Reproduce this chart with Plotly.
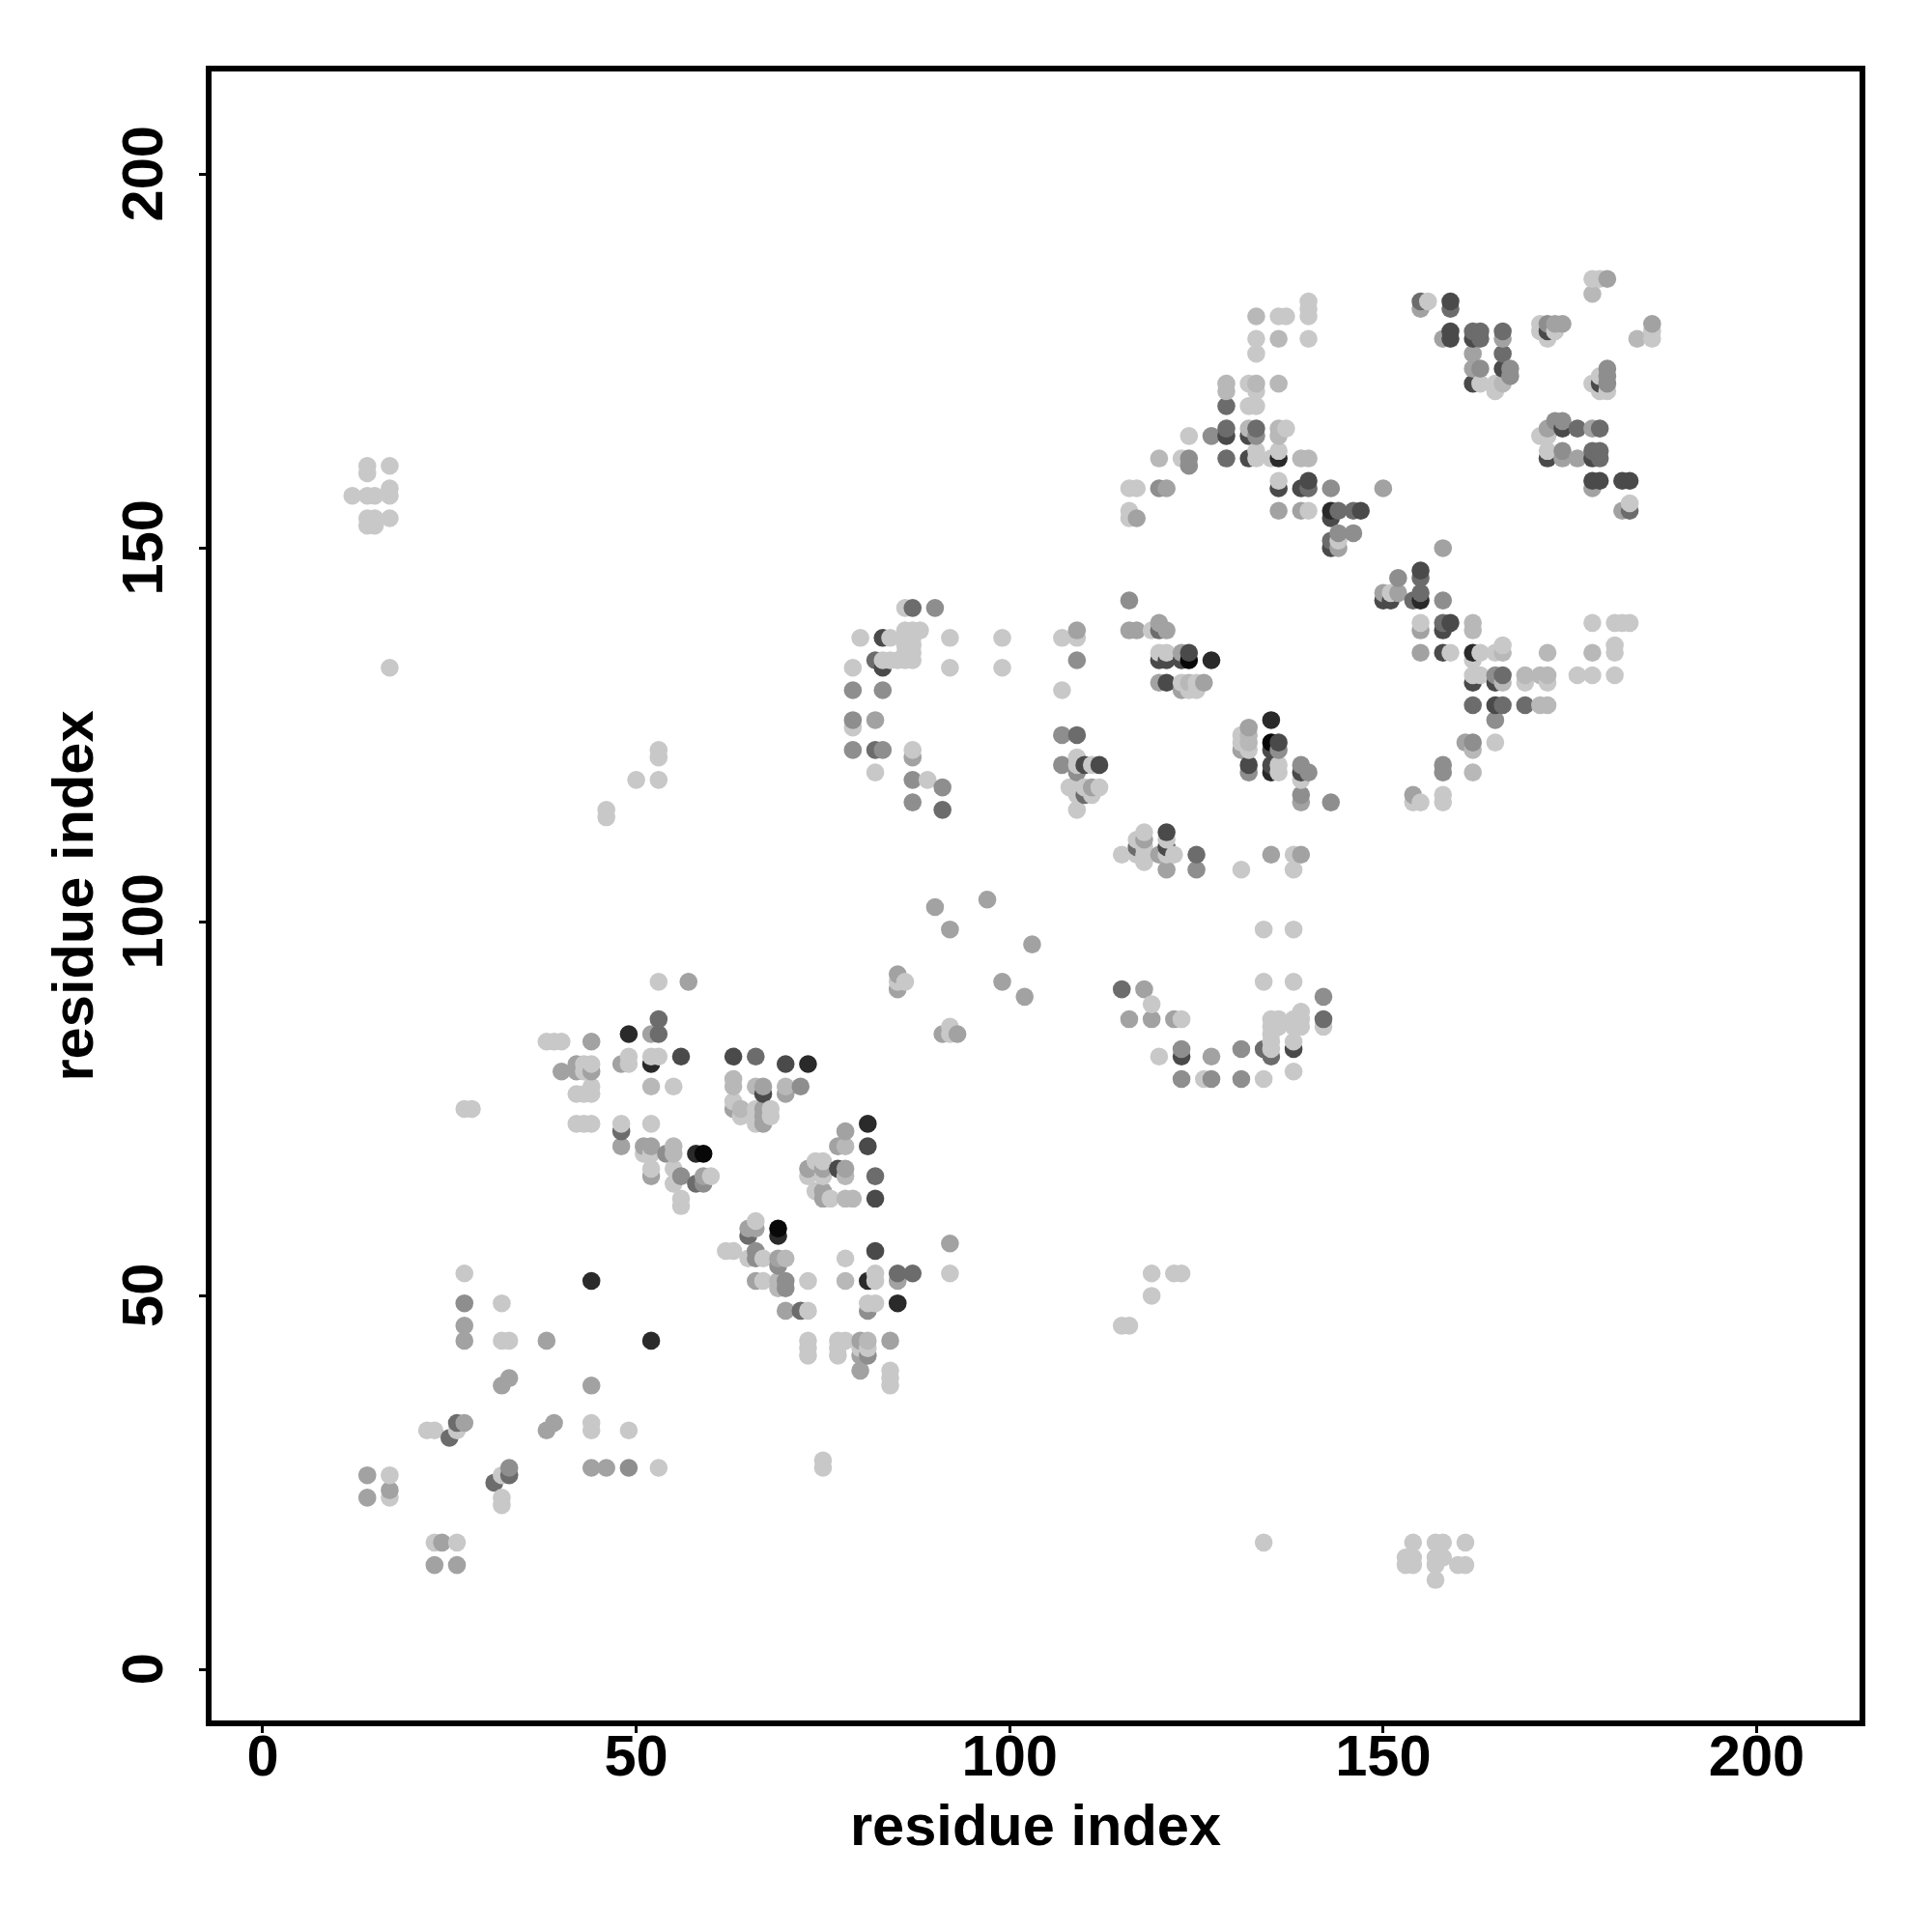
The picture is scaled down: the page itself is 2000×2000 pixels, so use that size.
import plotly.graph_objects as go

tick_values = [0, 50, 100, 150, 200]
axis_label = "residue index"

gray_c8 = [(17,26),(17,23),(23,17),(26,17),(22,32),(23,32),(26,32),(32,26),(32,23),(32,22),(44,33),(44,32),(49,32),(53,27),
 (27,53),(32,49),(32,44),(33,44),(27,75),(28,75),(38,84),(39,84),(40,84),(43,80),(43,81),(44,81),(42,77),(43,77),(44,77),(44,78),
 (42,73),(43,73),(44,73),(48,73),(52,73),(49,82),(49,81),(52,82),(53,82),(55,78),(51,69),(52,69),(52,67),(55,67),(55,65),(53,92),
 (75,28),(75,27),(134,17),(154,17),(157,17),(158,17),(161,17),(153,14),(154,14),(157,14),(160,14),(161,14),(153,15),(154,15),(157,15),(158,15),(157,12),
 (12,157),(14,157),(15,157),(17,158),(17,157),(17,154),(14,161),(14,160),(17,161),(14,154),(15,154),(14,153),(15,153),(17,134),
 (46,115),(46,114),(50,119),(53,119),(53,123),(53,122),(85,92),(86,92),(92,86),(92,85),(119,89),(120,82),
 (63,76),(64,74),(66,75),(66,73),(66,74),(68,75),(68,74),(74,68),(75,68),(73,66),(75,66),(74,64),(76,63),(60,66),(56,63),(56,62),
 (66,60),(62,56),(63,56),(65,55),(67,55),(67,52),(73,52),(82,53),(82,52),(92,53),(78,55),(73,48),(81,49),(82,49),
 (73,44),(77,44),(78,44),(73,43),(77,43),(80,43),(81,43),(73,42),(77,42),(84,40),(84,39),(84,38),(119,53),(122,53),(123,53),(119,50),(115,46),(116,46),
 (86,142),(80,138),(84,138),(86,139),(87,139),(88,139),(86,138),(87,138),(86,137),(87,137),(86,136),(87,136),(92,138),(99,138),(107,138),(109,138),
 (83,135),(84,135),(85,135),(86,135),(87,135),(79,134),(92,134),(99,134),(107,131),(79,126),(87,123),(82,120),(89,119),
 (109,122),(109,121),(111,121),(108,118),(109,118),(110,118),(112,118),(109,117),(111,117),(109,115),
 (119,139),(120,136),(121,136),(123,132),(125,132),(124,131),(125,131),(131,125),(131,124),(132,123),(136,121),(136,120),(139,119),
 (154,116),(155,116),(158,117),(158,116),(115,109),(117,111),(118,112),(118,110),(117,109),(118,109),(118,108),(121,109),(122,109),(121,111),
 (131,107),(134,99),(138,99),(138,109),(138,107),(123,87),(126,79),(134,79),(134,92),(138,92),(135,83),(135,84),(135,85),(135,86),(135,87),(136,87),(136,86),
 (138,87),(138,86),(139,86),(139,87),(139,88),(138,84),(138,80),(142,86),(151,144),(155,140),(159,136),(163,136),(162,135),(165,136),(166,137),
 (178,140),(181,140),(182,140),(183,140),(181,137),(181,136),(162,133),(163,133),(176,133),(178,133),(181,133),(169,132),(172,132),(165,124),
 (156,183),(163,172),(165,172),(165,171),(171,180),(171,179),(172,178),(173,179),(178,186),(179,186),(186,178),(186,179),(178,172),(179,173),(179,171),(180,171),
 (171,165),(172,165),(172,163),(183,156),(140,183),(140,182),(140,181),(136,181),(137,181),(133,178),(140,178),(133,176),(132,172),(133,171),
 (132,169),(133,169),(137,166),(124,165),(123,162),(133,163),(133,162),(135,162),(136,163),(116,158),(117,158),(136,159),(116,155),(116,154),(140,155),(144,151)]

gray_b8 = [(63,79),(63,78),(66,78),(70,78),(64,75),(78,70),(78,66),(78,63),(79,63),(55,70),(69,52),(69,51),(70,55),(78,52),(81,44),(52,78),
 (132,125),(132,124),(124,132),(162,140),(162,139),(166,136),(172,136),(178,136),(169,133),(171,133),(172,133),(166,132),(171,129),(172,129),(162,123),(162,120),
 (133,181),(136,178),(129,172),(129,171),(133,172),(136,172),(132,166),(136,166),(136,165),(120,162),(139,162),(140,162),(178,184),(184,178),(166,172),(55,69)]

gray_a2 = [(14,26),(14,23),(17,24),(24,17),(23,14),(26,14),(27,33),(32,38),(33,39),(38,32),(39,33),(44,38),(44,27),(46,27),(27,46),(27,44),(38,44),
 (44,84),(40,80),(42,80),(44,80),(42,81),(48,70),(52,85),(48,81),(51,70),(52,70),(52,66),(57,92),(85,93),(85,91),(99,92),(102,90),(91,85),(93,85),
 (118,91),(116,87),(119,87),(67,78),(70,77),(63,75),(67,75),(67,74),(67,73),(78,72),(77,70),(73,67),(75,67),(78,67),(75,64),(75,63),(59,66),(65,59),(66,59),(69,55),
 (66,52),(85,52),(92,57),(70,48),(80,44),(84,44),(80,42),(80,40),(90,102),(92,99),(97,103),(103,97),(109,139),(82,127),(87,122),(111,118),
 (116,139),(117,139),(120,140),(121,139),(123,136),(120,132),(126,132),(123,131),(132,126),(131,123),(139,116),(154,117),(152,144),(150,144),
 (155,139),(155,136),(158,150),(118,111),(120,109),(121,107),(135,109),(139,109),(122,87),(127,82),(161,124),(155,182),(158,178),(162,176),(162,174),(166,178),
 (173,180),(174,180),(180,186),(186,180),(172,166),(178,166),(174,162),(176,162),(178,158),(182,155),(150,158),(136,155),(139,155),(117,154),(121,158),(144,150)]

gray_8e = [(27,49),(49,27),(33,27),(72,78),(56,66),(59,65),(66,56),(66,55),(69,54),(70,52),(70,51),(81,48),(81,42),(54,69),
 (90,142),(109,135),(79,131),(83,131),(79,127),(79,123),(83,123),(87,119),(91,118),(87,116),(107,125),(107,121),(109,120),
 (116,143),(132,120),(136,123),(139,121),(140,120),(139,117),(143,116),(158,121),(158,120),(152,146),(158,143),(123,83),(123,79),(125,107),(127,79),
 (131,83),(131,79),(142,90),(165,133),(165,127),(162,124),(163,174),(167,174),(167,173),(172,180),(180,174),(180,173),(180,172),(173,167),(174,167),(174,163),
 (127,165),(133,165),(124,162),(124,161),(120,158),(143,158),(144,152),(146,152)]

gray_6c = [(115,91),(82,135),(87,142),(109,125),(91,115),(125,109),(135,82),(142,87),(155,146),(162,129),(166,133),(166,129),(169,129),(155,183),(162,179),(163,178),
 (166,179),(166,176),(176,166),(179,166),(129,169),(129,166),(133,166),(129,162),(146,155),(53,85),(53,87),(25,31),(26,33),(31,25),(33,26),(48,72),(65,58),(58,65),(66,82),(72,48),
 (85,53),(87,53),(82,66),(82,123),(110,117),(120,139),(117,110),(134,83),(155,144),(154,143),(158,140),(159,182),(178,163),(179,163),(179,162),(183,155),(143,151),(144,155),(140,158),(163,179)]

gray_4a = [(56,82),(63,82),(70,81),(67,77),(77,67),(82,63),(81,70),(82,56),(83,138),(83,134),(110,121),(112,121),(120,135),(121,135),(123,135),(124,136),(121,132),
 (132,121),(135,123),(135,121),(136,124),(139,120),(150,143),(151,143),(155,147),(158,139),(159,140),(158,136),(165,132),(162,132),(165,129),(121,112),(121,110),(123,82),(138,83),
 (159,183),(159,179),(159,178),(162,178),(166,174),(162,172),(172,179),(172,162),(179,172),(178,162),(178,159),(179,159),(182,159),(183,159),(174,166),
 (147,155),(129,165),(132,165),(132,162),(136,158),(139,158),(140,159),(143,154),(143,150)]

gray_2a = [(49,85),(73,81),(81,73),(58,69),(69,58),(85,49),(127,135),(135,127),(135,120),(155,143),(162,136),(136,162),(143,155),(44,52),(52,44),(81,52),(52,81)]

gray_08 = [(59,69),(69,59),(124,135),(135,124)]

shades = [("#c8c8c8", gray_c8), ("#b8b8b8", gray_b8), ("#a2a2a2", gray_a2), ("#8e8e8e", gray_8e),
          ("#6c6c6c", gray_6c), ("#4a4a4a", gray_4a), ("#2a2a2a", gray_2a), ("#080808", gray_08)]

# one colour per contact; drawn in ascending (x, y) order, as the overlaps in the picture show
contact = {}
for colour, pairs in shades:
    for p in pairs:
        contact[p] = colour
ordered = sorted(contact)
xs = [p[0] for p in ordered]
ys = [p[1] for p in ordered]
cs = [contact[p] for p in ordered]

fig = go.Figure(go.Scatter(x=xs, y=ys, mode="markers",
                           marker=dict(size=18.6, color=cs, line=dict(width=0)),
                           hoverinfo="skip", showlegend=False))

font = dict(family="Liberation Sans", size=59.6, color="black", weight="bold")
axis = dict(showgrid=False, zeroline=False, showline=True, mirror=True, linecolor="black", linewidth=5.5,
            ticks="outside", ticklen=7, tickwidth=3, tickcolor="black",
            tickmode="linear", tick0=tick_values[0], dtick=tick_values[1] - tick_values[0], tickfont=font)
fig.update_xaxes(**axis, range=[-6.85, 213.77], ticklabelstandoff=-27,
                 title=dict(text=axis_label, font=font, standoff=20.5))
fig.update_yaxes(**axis, range=[-6.79, 213.75], tickangle=-90, ticklabelstandoff=14, ticksuffix="\u00a0",
                 title=dict(text=axis_label, font=font, standoff=1))
fig.update_layout(width=2000, height=2000, autosize=False, paper_bgcolor="white", plot_bgcolor="white",
                  margin=dict(l=219, r=74.5, t=74, b=219, pad=0))
fig.write_html("out.html", config={"displayModeBar": False}, post_script="document.body.style.margin='0';")
